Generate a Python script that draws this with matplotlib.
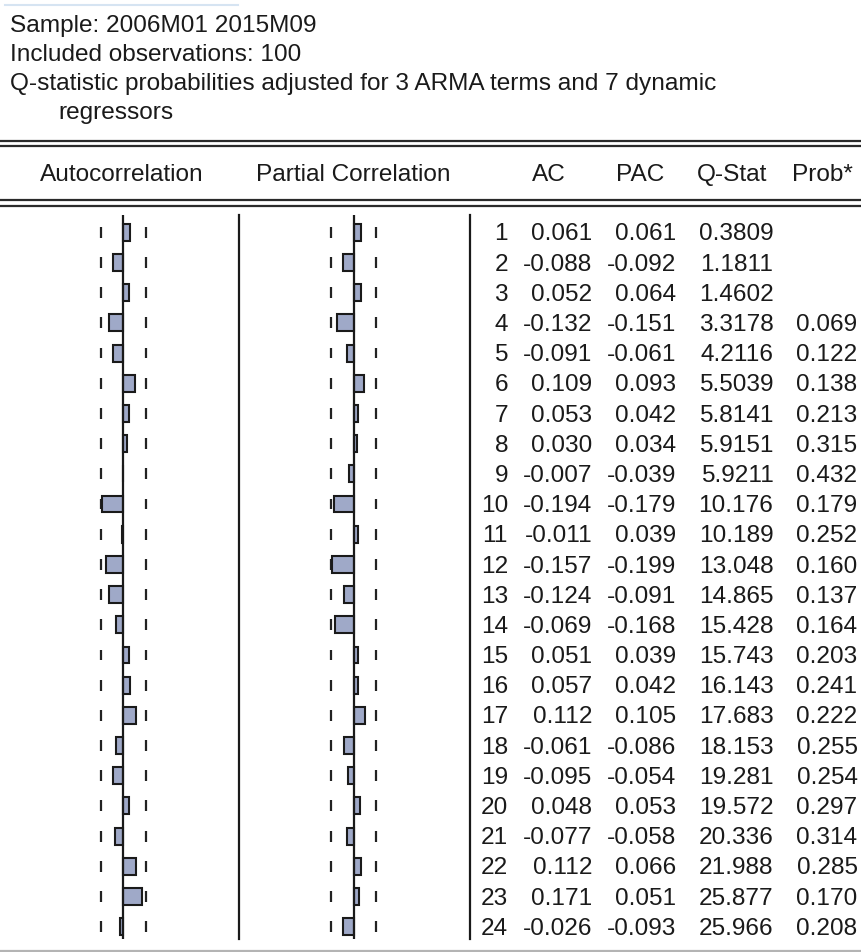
import numpy as np
import matplotlib.pyplot as plt

plt.rcParams['font.family'] = ['Liberation Sans', 'DejaVu Sans']

# Correlogram values (read from the EViews output)
nobs = 100
lags = np.arange(1, 25)
ac = [0.061, -0.088, 0.052, -0.132, -0.091, 0.109, 0.053, 0.030, -0.007, -0.194,
      -0.011, -0.157, -0.124, -0.069, 0.051, 0.057, 0.112, -0.061, -0.095, 0.048,
      -0.077, 0.112, 0.171, -0.026]
pac = [0.061, -0.092, 0.064, -0.151, -0.061, 0.093, 0.042, 0.034, -0.039, -0.179,
       0.039, -0.199, -0.091, -0.168, 0.039, 0.042, 0.105, -0.086, -0.054, 0.053,
       -0.058, 0.066, 0.051, -0.093]
qstat = ["0.3809", "1.1811", "1.4602", "3.3178", "4.2116", "5.5039", "5.8141", "5.9151",
         "5.9211", "10.176", "10.189", "13.048", "14.865", "15.428", "15.743", "16.143",
         "17.683", "18.153", "19.281", "19.572", "20.336", "21.988", "25.877", "25.966"]
prob = ["", "", "", "0.069", "0.122", "0.138", "0.213", "0.315", "0.432", "0.179",
        "0.252", "0.160", "0.137", "0.164", "0.203", "0.241", "0.222", "0.255", "0.254",
        "0.297", "0.314", "0.285", "0.170", "0.208"]
header_lines = ["Sample: 2006M01 2015M09",
                "Included observations: 100",
                "Q-statistic probabilities adjusted for 3 ARMA terms and 7 dynamic",
                "regressors"]
col_names = ["Autocorrelation", "Partial Correlation", "AC", "PAC", "Q-Stat", "Prob*"]

W, H = 861, 952
fs = 17.6
txt_col = '#1a1a1a'
bar_col = '#9fa9c8'
bound = 2 / np.sqrt(nobs)

fig = plt.figure(figsize=(W / 100, H / 100), dpi=100)

# background layer in pixel units (rules, header)
bg = fig.add_axes([0, 0, 1, 1])
bg.set_xlim(0, W)
bg.set_ylim(H, 0)
bg.axis('off')

bg.plot([5, 238], [5, 5], color='#d6e4f2', lw=1.5)
for i, (s, x) in enumerate(zip(header_lines, [10, 10, 10, 58])):
    bg.text(x, 26 + i * 29, s, fontsize=fs, color=txt_col, ha='left', va='center')

for y in [141, 146, 199.5, 205.5]:
    bg.plot([0, W], [y, y], color='#2a2a2a', lw=1.6)
bg.plot([0, W], [950.5, 950.5], color='#b4b4b4', lw=1.6)

for name, x in zip(col_names, [122, 353, 549, 640, 732, 822]):
    bg.text(x, 175, name, fontsize=fs, color=txt_col, ha='center', va='center')

for x in [239.3, 470]:
    bg.plot([x, x], [215, 939], color='#1a1a1a', lw=1.6)

# row geometry
y_top, y_bot = 215, 939
row0, step = 232.3, 30.19
ylim = (1 + (y_bot - row0) / step, 1 + (y_top - row0) / step)
ax_rect_y = (1 - y_bot / H, (y_bot - y_top) / H)
scale = 111.5  # pixels per unit correlation
half = 110


def corr_panel(center, values):
    ax = fig.add_axes([(center - half) / W, ax_rect_y[0], 2 * half / W, ax_rect_y[1]])
    ax.set_xlim(-half / scale, half / scale)
    ax.set_ylim(*ylim)
    ax.axis('off')
    ax.vlines([-bound, bound] * len(lags),
              np.repeat(lags, 2) - 0.18, np.repeat(lags, 2) + 0.18,
              color='#222222', lw=1.6, zorder=1)
    ax.barh(lags, values, height=0.56, left=0, color=bar_col,
            edgecolor='#1a1a1a', lw=1.5, zorder=2)
    ax.axvline(0, color='#1a1a1a', lw=1.6, zorder=3)
    return ax


corr_panel(123.3, ac)
corr_panel(353.7, pac)

# numeric columns
tab = fig.add_axes([0, ax_rect_y[0], 1, ax_rect_y[1]])
tab.set_xlim(0, W)
tab.set_ylim(*ylim)
tab.axis('off')
for i, lag in enumerate(lags):
    row = [str(lag), f"{ac[i]:.3f}", f"{pac[i]:.3f}", qstat[i], prob[i]]
    for s, x in zip(row, [508, 592.5, 676.5, 773.5, 857.5]):
        tab.text(x, lag + 0.07, s, fontsize=fs, color=txt_col, ha='right', va='center')

fig.savefig('out.png', dpi=100)
